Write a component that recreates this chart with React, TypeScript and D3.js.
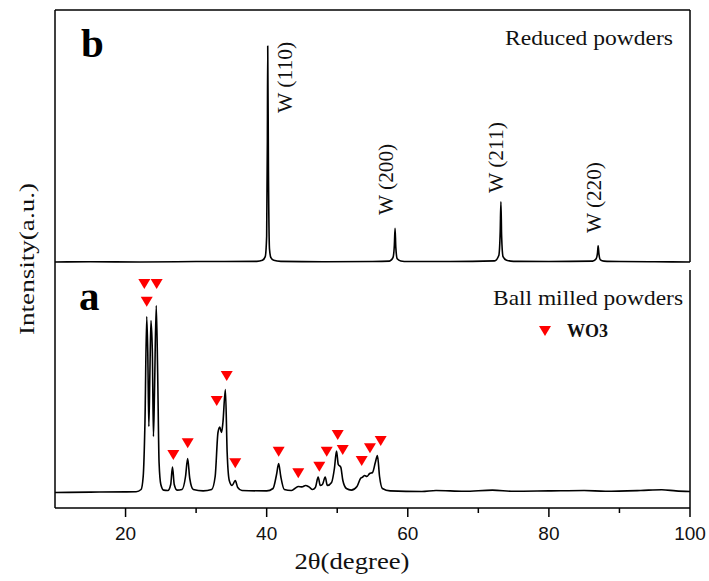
import React from "react";
import * as d3 from "d3";

// ---- data (2θ in degrees, intensity in arbitrary units) ----
const reducedTheta = [10, 15, 22, 30, 38.6, 39.4, 39.8, 40.0, 40.1, 40.15, 40.25, 40.4, 40.6, 41.0, 42.0, 48, 55, 57.4, 57.9, 58.1, 58.2, 58.3, 58.5, 59.0, 60, 66, 72.3, 72.9, 73.1, 73.2, 73.3, 73.5, 74.0, 75, 80, 86.2, 86.7, 86.9, 86.98, 87.1, 87.3, 87.8, 90, 95, 100];
const reducedIntensity = [0, 1, 0, 2, 3, 8, 25, 120, 560, 1000, 430, 60, 20, 8, 3, 1, 2, 4, 20, 80, 156, 70, 15, 5, 2, 2, 5, 30, 140, 279, 120, 25, 8, 3, 2, 4, 15, 45, 75, 35, 10, 4, 2, 1, 0];

const milledTheta = [10, 15, 20, 21.5, 22.2, 22.5, 22.75, 23.0, 23.15, 23.3, 23.45, 23.6, 23.8, 23.95, 24.1, 24.35, 24.55, 24.75, 25.0, 25.4, 26.0, 26.4, 26.65, 26.9, 27.3, 28.0, 28.5, 28.8, 29.1, 29.6, 31, 32.2, 32.7, 33.1, 33.35, 33.6, 33.8, 34.15, 34.4, 34.7, 35.1, 35.55, 35.9, 36.5, 40, 40.9, 41.4, 41.7, 42.0, 42.5, 43.5, 44.0, 44.5, 45.0, 45.5, 46.0, 46.5, 46.9, 47.3, 47.6, 47.9, 48.3, 48.6, 49.2, 49.6, 49.9, 50.15, 50.5, 50.8, 51.3, 52, 52.8, 53.3, 53.6, 53.9, 54.2, 54.6, 55.0, 55.4, 55.7, 56.0, 56.4, 57.5, 62, 64, 68, 72, 75, 80, 85, 88, 93, 96, 98, 100];
const milledIntensity = [0, 2, 3, 4, 15, 80, 350, 880, 700, 330, 600, 860, 700, 280, 500, 935, 600, 150, 40, 12, 10, 40, 127, 40, 12, 15, 80, 170, 70, 15, 8, 15, 80, 300, 327, 300, 350, 515, 200, 60, 35, 60, 25, 10, 8, 20, 90, 145, 80, 15, 10, 20, 30, 28, 35, 28, 15, 25, 77, 35, 40, 77, 35, 50, 120, 207, 140, 127, 60, 20, 12, 30, 70, 77, 85, 80, 95, 100, 150, 185, 80, 20, 8, 5, 10, 6, 12, 6, 8, 10, 6, 10, 14, 8, 5];

// WO3 marker positions (2θ, intensity)
const markerTheta = [22.66, 24.41, 23.0, 26.77, 28.81, 32.92, 34.34, 35.55, 41.7, 44.48, 47.46, 48.51, 50.07, 50.78, 53.47, 54.64, 56.16];
const markerIntensity = [1042, 1042, 954, 187, 246, 457, 582, 146, 204, 96, 129, 204, 287, 212, 157, 221, 257];

// W peak labels (text start position)
const wLabels = ["W (110)", "W (200)", "W (211)", "W (220)"];
const wLabelTheta = [43.63, 57.85, 73.55, 87.35];
const wLabelIntensity = [690, 218, 319, 134];

const xTicks = [20, 40, 60, 80, 100];
const xMinorTicks = [30, 50, 70, 90];

const W = 709;
const H = 581;
const left = 55, right = 690, top = 10, bottom = 508;

export default function App() {
  const x = d3.scaleLinear().domain([10, 100]).range([left, right]);
  const yB = d3.scaleLinear().domain([0, 1000]).range([262, 46]);
  const yA = d3.scaleLinear().domain([0, 1000]).range([492.5, 292.5]);

  const lineB = d3
    .line<number>()
    .x((_, i) => x(reducedTheta[i]))
    .y((d) => yB(d))
    .curve(d3.curveMonotoneX);
  const lineA = d3
    .line<number>()
    .x((_, i) => x(milledTheta[i]))
    .y((d) => yA(d))
    .curve(d3.curveMonotoneX);

  const tri = "M-6,-5L6,-5L0,5Z";
  const serif = "'Liberation Serif', 'Times New Roman', serif";
  const sans = "'Liberation Sans', Arial, sans-serif";

  return (
    <svg
      width={W}
      height={H}
      style={{ position: "absolute", left: 0, top: 0, display: "block", background: "#fff" }}
    >
      <rect x={0} y={0} width={W} height={H} fill="#fff" />
      {/* frame */}
      <line x1={left} y1={top} x2={right} y2={top} stroke="#000" strokeWidth={1.5} />
      <line x1={left} y1={top} x2={left} y2={bottom} stroke="#000" strokeWidth={1.5} />
      <line x1={right} y1={top} x2={right} y2={262} stroke="#000" strokeWidth={1.5} />
      <line x1={right} y1={270} x2={right} y2={bottom} stroke="#000" strokeWidth={1.5} />
      <line x1={left} y1={bottom} x2={right} y2={bottom} stroke="#000" strokeWidth={1.5} />

      {/* ticks */}
      {xTicks.map((t) => (
        <g key={"t" + t}>
          <line x1={x(t)} x2={x(t)} y1={bottom} y2={bottom + 9} stroke="#000" strokeWidth={1.5} />
          <text x={x(t)} y={540} textAnchor="middle" fontFamily={sans} fontSize={19} fill="#111">
            {t}
          </text>
        </g>
      ))}
      {xMinorTicks.map((t) => (
        <line key={"m" + t} x1={x(t)} x2={x(t)} y1={bottom} y2={bottom + 5} stroke="#000" strokeWidth={1.5} />
      ))}

      {/* traces */}
      <path d={lineB(reducedIntensity) || ""} fill="none" stroke="#000" strokeWidth={1.6} strokeLinejoin="round" />
      <path d={lineA(milledIntensity) || ""} fill="none" stroke="#000" strokeWidth={1.6} strokeLinejoin="round" />

      {/* markers */}
      {markerTheta.map((t, i) => (
        <path key={"mk" + i} d={tri} transform={`translate(${x(t)},${yA(markerIntensity[i])})`} fill="#f00" />
      ))}

      {/* W labels */}
      {wLabels.map((s, i) => (
        <text
          key={s}
          transform={`translate(${x(wLabelTheta[i])},${yB(wLabelIntensity[i])}) rotate(-90)`}
          fontFamily={serif}
          fontSize={20}
          fill="#111"
          textLength={71}
          lengthAdjust="spacingAndGlyphs"
        >
          {s}
        </text>
      ))}

      {/* panel letters */}
      <text x={81} y={57} fontFamily={serif} fontWeight="bold" fontSize={41} fill="#000">b</text>
      <text x={79} y={310} fontFamily={serif} fontWeight="bold" fontSize={41} fill="#000">a</text>

      {/* legends */}
      <text x={673} y={45} textAnchor="end" fontFamily={serif} fontSize={21} fill="#111" textLength={168} lengthAdjust="spacingAndGlyphs">
        Reduced powders
      </text>
      <text x={683} y={305} textAnchor="end" fontFamily={serif} fontSize={21} fill="#111" textLength={190} lengthAdjust="spacingAndGlyphs">
        Ball milled powders
      </text>
      <path d={tri} transform="translate(545,331)" fill="#f00" />
      <text x={567} y={337} fontFamily={serif} fontWeight="bold" fontSize={18} fill="#111">WO3</text>

      {/* axis titles */}
      <text x={352} y={569} textAnchor="middle" fontFamily={serif} fontSize={23} fill="#111" textLength={115} lengthAdjust="spacingAndGlyphs">
        2θ(degree)
      </text>
      <text
        transform="translate(34,259) rotate(-90)"
        textAnchor="middle"
        fontFamily={serif}
        fontSize={21}
        fill="#111"
        textLength={152}
        lengthAdjust="spacingAndGlyphs"
      >
        Intensity(a.u.)
      </text>
    </svg>
  );
}
